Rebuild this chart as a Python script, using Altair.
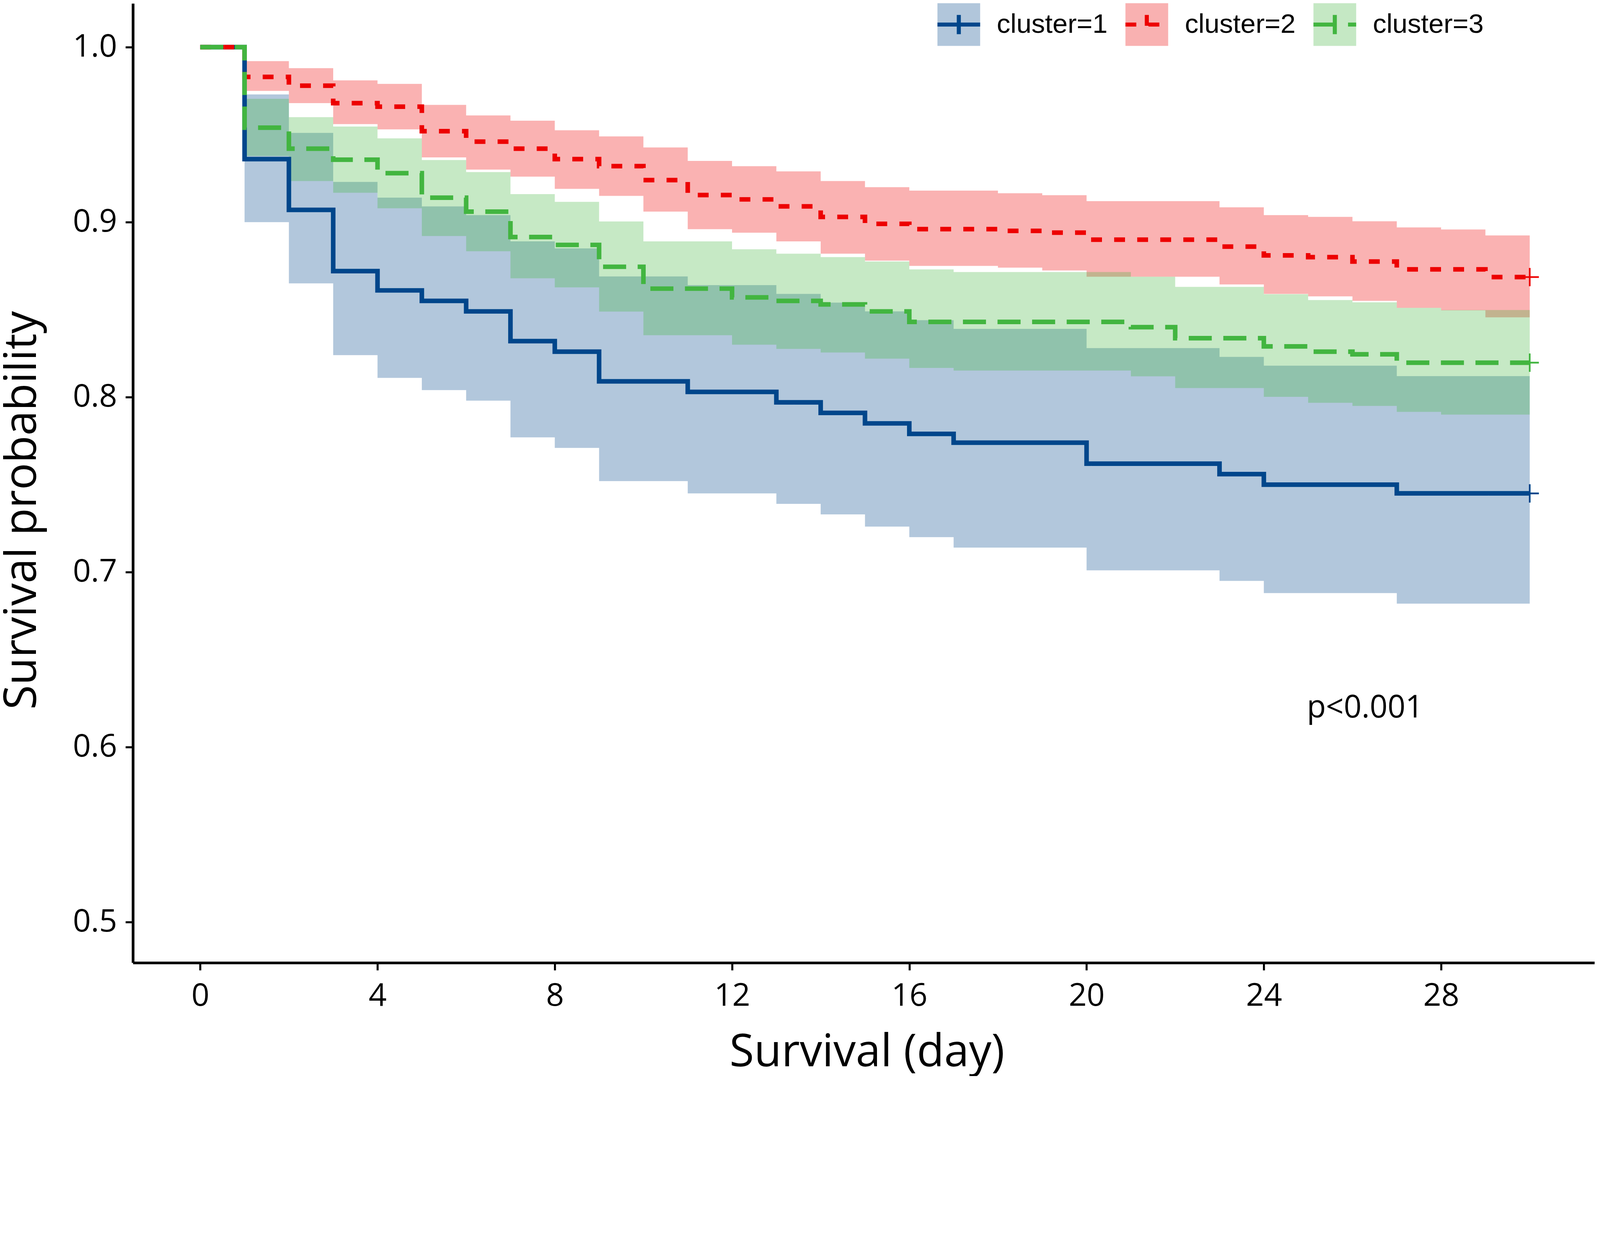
import altair as alt
import pandas as pd

# ---- data (Kaplan-Meier steps with 95% CI) ----
LABELS = ["cluster=1", "cluster=2", "cluster=3"]
COLORS = ["#00468B", "#ED0000", "#42B540"]

c1_time = [0, 1, 2, 3, 4, 5, 6, 7, 8, 9, 11, 13, 14, 15, 16, 17, 20, 23, 24, 27, 30]
c1_surv = [1.0, 0.936, 0.907, 0.872, 0.861, 0.855, 0.849, 0.832, 0.826, 0.809, 0.803,
           0.797, 0.791, 0.785, 0.779, 0.774, 0.762, 0.756, 0.750, 0.745, 0.745]
c1_lower = [1.0, 0.900, 0.865, 0.824, 0.811, 0.804, 0.798, 0.777, 0.771, 0.752, 0.745,
            0.739, 0.733, 0.726, 0.720, 0.714, 0.701, 0.695, 0.688, 0.682, 0.682]
c1_upper = [1.0, 0.973, 0.951, 0.923, 0.914, 0.909, 0.904, 0.889, 0.885, 0.869, 0.864,
            0.859, 0.854, 0.849, 0.844, 0.839, 0.828, 0.823, 0.818, 0.812, 0.812]

c2_time = [0, 1, 2, 3, 4, 5, 6, 7, 8, 9, 10, 11, 12, 13, 14, 15, 16, 18, 19, 20, 23, 24,
           25, 26, 27, 28, 29, 30]
c2_surv = [1.0, 0.983, 0.978, 0.968, 0.966, 0.952, 0.946, 0.942, 0.936, 0.932, 0.924,
           0.9155, 0.913, 0.909, 0.903, 0.899, 0.896, 0.895, 0.894, 0.890, 0.886, 0.881,
           0.880, 0.8775, 0.873, 0.873, 0.8686, 0.8686]
c2_upper = [1.0, 0.992, 0.988, 0.981, 0.979, 0.967, 0.961, 0.958, 0.9525, 0.949, 0.9427,
            0.935, 0.932, 0.929, 0.9235, 0.920, 0.918, 0.9165, 0.9154, 0.912, 0.9085, 0.904,
            0.903, 0.9005, 0.897, 0.8958, 0.8924, 0.8924]
c2_lower = [1.0, 0.975, 0.968, 0.956, 0.953, 0.937, 0.930, 0.926, 0.919, 0.915, 0.906,
            0.896, 0.894, 0.889, 0.882, 0.878, 0.875, 0.874, 0.8724, 0.8688, 0.8644, 0.859,
            0.8576, 0.855, 0.851, 0.8496, 0.8456, 0.8456]

c3_time = [0, 1, 2, 3, 4, 5, 6, 7, 8, 9, 10, 12, 13, 14, 15, 16, 17, 21, 22, 24, 25, 26,
           27, 28, 30]
c3_surv = [1.0, 0.954, 0.942, 0.9357, 0.928, 0.914, 0.906, 0.8915, 0.887, 0.8745, 0.862,
           0.857, 0.855, 0.853, 0.849, 0.843, 0.843, 0.840, 0.8337, 0.829, 0.826, 0.8245,
           0.8197, 0.8197, 0.8197]
c3_upper = [1.0, 0.9705, 0.960, 0.9546, 0.9479, 0.9355, 0.9286, 0.916, 0.9116, 0.9004,
            0.889, 0.8845, 0.882, 0.880, 0.8775, 0.873, 0.8715, 0.8688, 0.863, 0.8588,
            0.8555, 0.8542, 0.851, 0.8498, 0.8498]
c3_lower = [1.0, 0.9378, 0.9235, 0.9168, 0.9079, 0.8921, 0.8834, 0.8679, 0.8627, 0.8489,
            0.8354, 0.830, 0.8276, 0.8255, 0.822, 0.8167, 0.8152, 0.8119, 0.8052, 0.8002,
            0.7968, 0.795, 0.7916, 0.790, 0.790]

X_TICKS = [0, 4, 8, 12, 16, 20, 24, 28]
Y_TICKS = [0.5, 0.6, 0.7, 0.8, 0.9, 1.0]
P_TEXT = "p<0.001"
P_POS = (24.97, 0.617)

# ---- sizing: the page is shown at ~1.152 device pixels per CSS pixel,
# so every pixel size below is the reference pixel size divided by K ----
K = 1.1522


def px(v):
    return round(v / K, 2)


DASHES = [[1, 0], [px(32), px(36)], [px(68), px(34)]]

# ---- build tables ----
rows = []
series = [
    (LABELS[0], c1_time, c1_surv, c1_lower, c1_upper),
    (LABELS[1], c2_time, c2_surv, c2_lower, c2_upper),
    (LABELS[2], c3_time, c3_surv, c3_lower, c3_upper),
]
for lab, ts, ss, lo, up in series:
    for t, s, l, u in zip(ts, ss, lo, up):
        rows.append({"cluster": lab, "group": lab, "time": t, "surv": s,
                     "lower": l, "upper": u})
df = pd.DataFrame(rows)
ends = df.groupby("group", sort=False).tail(1)
ptxt_df = pd.DataFrame({"t": [P_POS[0]], "v": [P_POS[1]], "label": [P_TEXT]})

xscale = alt.Scale(domain=[-1.52, 31.46], nice=False, zero=False)
yscale = alt.Scale(domain=[0.4768, 1.025], nice=False, zero=False)

x_axis = alt.Axis(values=X_TICKS, format="d", title="Survival (day)",
                  labelPadding=px(31), labelLimit=0, titleY=px(305), titleX=px(2165),
                  titleBaseline="alphabetic", titleAlign="center")
y_axis = alt.Axis(values=Y_TICKS, format=".1f", title="Survival probability",
                  labelPadding=px(25), labelLimit=0, titleAngle=270, titleX=px(-326),
                  titleY=px(1495), titleAlign="center", titleBaseline="middle")

common_leg = dict(title=None, orient="none", legendX=px(2367), legendY=px(-7),
                  direction="horizontal", symbolSize=round(px(126) ** 2),
                  labelFont="Liberation Sans", labelFontSize=px(80),
                  labelOffset=px(43), columnPadding=px(28), padding=0,
                  labelLimit=0, symbolStrokeWidth=px(12))

fill_legend = alt.Legend(symbolType="square", symbolOpacity=0.3,
                         symbolStrokeColor="transparent", labelColor="black", zindex=0,
                         **common_leg)
stroke_legend = alt.Legend(symbolType="M-1,0H1M0,-0.45V0.45",
                           symbolFillColor="transparent", labelColor="transparent",
                           zindex=1, **common_leg)

# fill scale takes its domain from the data, the stroke scales have an explicit one,
# so the two legends stay apart and are drawn on top of each other.
area = alt.Chart(df).mark_area(interpolate="step-after", opacity=0.3).encode(
    x=alt.X("time:Q", scale=xscale, axis=x_axis),
    y=alt.Y("lower:Q", scale=yscale, axis=y_axis),
    y2="upper:Q",
    fill=alt.Fill("cluster:N", scale=alt.Scale(range=COLORS), legend=fill_legend),
)

line = alt.Chart(df).mark_line(interpolate="step-after", strokeWidth=px(13.5)).encode(
    x="time:Q",
    y="surv:Q",
    stroke=alt.Stroke("group:N", scale=alt.Scale(domain=LABELS, range=COLORS),
                      legend=stroke_legend),
    strokeDash=alt.StrokeDash("group:N", scale=alt.Scale(domain=LABELS, range=DASHES),
                              legend=stroke_legend),
)

pts = alt.Chart(ends).mark_point(shape="M-1,0H1M0,-1V1", size=round(px(54) ** 2),
                                 strokeWidth=px(5), filled=False, opacity=1).encode(
    x="time:Q",
    y="surv:Q",
    stroke=alt.Stroke("group:N", legend=None),
)

ptxt = alt.Chart(ptxt_df).mark_text(align="left", baseline="alphabetic",
                                    font="Open Sans", fontSize=px(92),
                                    color="black").encode(
    x="t:Q", y="v:Q", text="label:N")

chart = alt.layer(area, line, pts, ptxt).properties(
    width=px(4311), height=px(2830),
    autosize=alt.AutoSizeParams(type="none"),
    padding={"left": round(392 / K - 8, 1), "top": 0.7, "right": 4, "bottom": 290},
).configure_view(stroke=None).configure_axis(
    grid=False, domainColor="black", domainWidth=px(8), tickColor="black",
    tickWidth=px(6), tickSize=px(22), labelFont="Open Sans", labelFontSize=px(93),
    labelColor="black", titleFont="Open Sans", titleFontSize=px(132),
    titleFontWeight="normal", titleColor="black",
)

chart.save("out.html", embed_options={"renderer": "svg", "actions": False})
